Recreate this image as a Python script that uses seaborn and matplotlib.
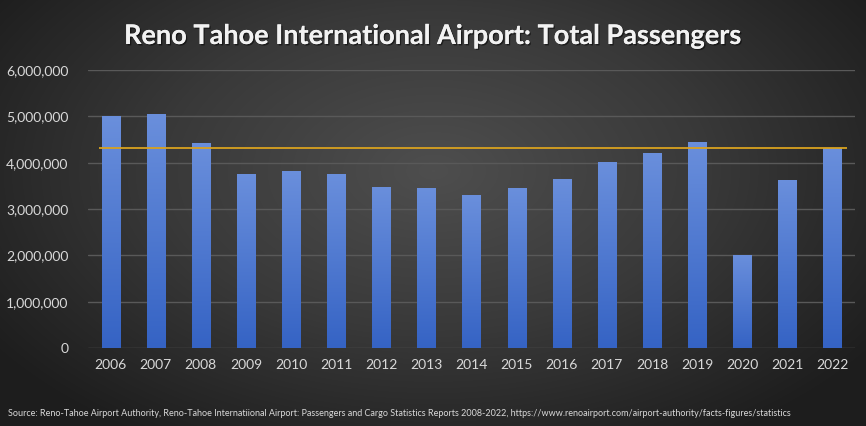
import numpy as np
import pandas as pd
import matplotlib
matplotlib.use("Agg")
import matplotlib.pyplot as plt
import seaborn as sns
from matplotlib.colors import LinearSegmentedColormap
from matplotlib.ticker import FuncFormatter
import matplotlib.patheffects as pe

years = ["2006", "2007", "2008", "2009", "2010", "2011", "2012", "2013", "2014",
         "2015", "2016", "2017", "2018", "2019", "2020", "2021", "2022"]
passengers = [5000000, 5040000, 4430000, 3760000, 3820000, 3760000, 3480000, 3450000,
              3300000, 3450000, 3650000, 4020000, 4210000, 4450000, 2010000, 3630000, 4320000]
reference_value = 4320000
title = "Reno Tahoe International Airport: Total Passengers"
source = ("Source: Reno-Tahoe Airport Authority, Reno-Tahoe Internatiional Airport: Passengers and Cargo "
          "Statistics Reports 2008-2022, https://www.renoairport.com/airport-authority/facts-figures/statistics")

sns.set_theme(style="dark")
plt.rcParams['font.family'] = ['Lato', 'DejaVu Sans']

W, H = 866, 426
fig = plt.figure(figsize=(W / 100, H / 100), dpi=100)

# background radial gradient
bg = fig.add_axes([0, 0, 1, 1], zorder=-10)
yy, xx = np.mgrid[0:H, 0:W]
r = np.sqrt(((xx - W * 0.5) / (W * 0.62)) ** 2 + ((yy - H * 0.40) / (H * 0.75)) ** 2)
r = np.clip(r, 0, 1)
cmap_bg = LinearSegmentedColormap.from_list("bg", ["#4e4e4e", "#393939", "#1d1d1d"])
bg.imshow(r, cmap=cmap_bg, aspect="auto", extent=[0, 1, 0, 1], vmin=0, vmax=1)
bg.axis("off")

ax = fig.add_axes([88 / W, 1 - 348 / H, (855 - 88) / W, (348 - 70) / H])
ax.patch.set_alpha(0)

df = pd.DataFrame({"year": years, "passengers": passengers})
sns.barplot(data=df, x="year", y="passengers", color="#4a74d0", width=0.4,
            saturation=1, linewidth=0, edgecolor="none", ax=ax, zorder=3)

# vertical gradient on bars
grad = np.linspace(0, 1, 256).reshape(-1, 1)
cmap_bar = LinearSegmentedColormap.from_list("bar", ["#3563c4", "#6a8fdc"])
for p in list(ax.patches):
    p.set_linewidth(0)
    p.set_edgecolor("none")
    x0, y0 = p.get_x(), p.get_y()
    w, h = p.get_width(), p.get_height()
    im = ax.imshow(grad, cmap=cmap_bar, origin="lower", aspect="auto",
                   extent=[x0, x0 + w, y0, y0 + h], zorder=4)
    im.set_clip_path(p)

ax.hlines(reference_value, -0.26, 16.33, color="#d9a21f", lw=1.3, zorder=5)

ax.set_xlim(-0.5, 16.5)
ax.set_ylim(0, 6000000)
ax.set_yticks(np.arange(0, 6000001, 1000000))
ax.yaxis.set_major_formatter(FuncFormatter(lambda v, pos: f"{int(v):,}"))
ax.grid(axis="y", color="#595959", lw=1, zorder=0)
ax.grid(axis="x", visible=False)
ax.set_axisbelow(True)
for s in ax.spines.values():
    s.set_visible(False)
ax.set_xlabel("")
ax.set_ylabel("")
ax.tick_params(axis="both", colors="#d9d9d9", labelsize=10, length=0)
ax.tick_params(axis="y", pad=14)
ax.tick_params(axis="x", pad=8)

fig.text(0.5, 1 - 36 / H, title, ha="center", va="center", color="#f2f2f2",
         fontsize=19.5, fontweight="bold",
         path_effects=[pe.withSimplePatchShadow(offset=(1, -1), shadow_rgbFace="#000000", alpha=0.5),
                       pe.Normal()])
fig.text(8 / W, 1 - 414 / H, source, ha="left", va="center", color="#d9d9d9",
         fontsize=6.5)

fig.savefig("out.png", dpi=100)
